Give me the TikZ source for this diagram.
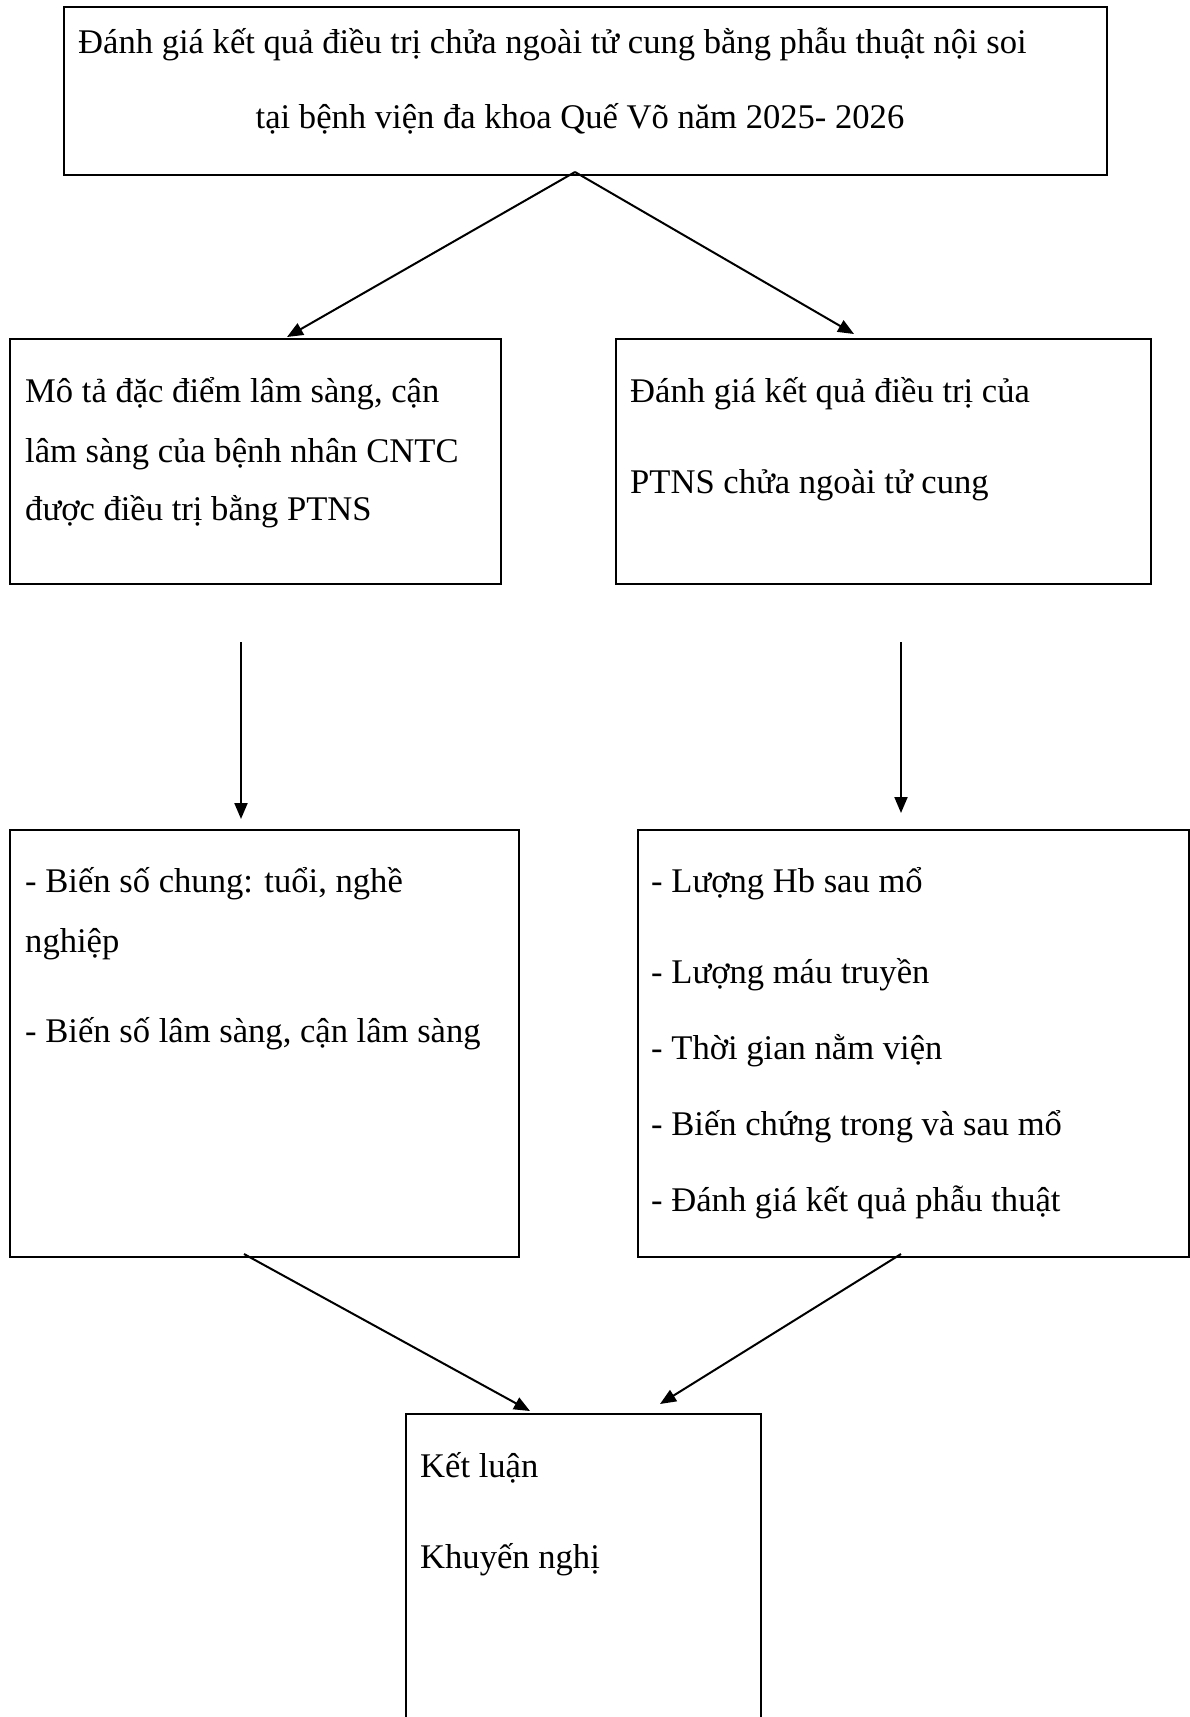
\documentclass[tikz,border=0pt]{standalone}
\usepackage{fontspec}
\setmainfont{Liberation Serif}
\usetikzlibrary{arrows.meta}
\begin{document}
\begin{tikzpicture}[x=1pt,y=-1pt,
 box/.style={draw, line width=2.2pt, anchor=north west, inner sep=0pt},
 txt/.style={anchor=base west, inner sep=0pt, font=\fontsize{34.6}{40}\selectfont},
 arr/.style={line width=2pt, -{Triangle[length=16pt,width=13pt]}}]
\useasboundingbox (0,0) rectangle (1190,1717);
\fill[white] (0,0) rectangle (1190,1717);
% boxes
\node[box, minimum width=1043pt, minimum height=168pt] (top) at (63,6) {};
\node[box, minimum width=491pt, minimum height=245pt] (b2l) at (9,338) {};
\node[box, minimum width=535pt, minimum height=245pt] (b2r) at (615,338) {};
\node[box, minimum width=509pt, minimum height=427pt] (b3l) at (9,829) {};
\node[box, minimum width=551pt, minimum height=427pt] (b3r) at (637,829) {};
\node[box, minimum width=355pt, minimum height=330pt] (bot) at (405,1413) {};
% texts
\node[txt] (t1) at (78,53) {Đánh giá kết quả điều trị chửa ngoài tử cung bằng phẫu thuật nội soi};
\node[txt, anchor=base] (t2) at (580,128) {tại bệnh viện đa khoa Quế Võ năm 2025- 2026};
\node[txt] (l1) at (25,402) {Mô tả đặc điểm lâm sàng, cận};
\node[txt] (l2) at (25,462) {lâm sàng của bệnh nhân CNTC};
\node[txt] (l3) at (25,520) {được điều trị bằng PTNS};
\node[txt] (r1) at (630,402) {Đánh giá kết quả điều trị của};
\node[txt] (r2) at (630,493) {PTNS chửa ngoài tử cung};
\node[txt] (m1) at (25,892) {- Biến số chung: tuổi, nghề};
\node[txt] (m2) at (25,952) {nghiệp};
\node[txt] (m3) at (25,1042) {- Biến số lâm sàng, cận lâm sàng};
\node[txt] (n1) at (651,892) {- Lượng Hb sau mổ};
\node[txt] (n2) at (651,983) {- Lượng máu truyền};
\node[txt] (n3) at (651,1059) {- Thời gian nằm viện};
\node[txt] (n4) at (651,1135) {- Biến chứng trong và sau mổ};
\node[txt] (n5) at (651,1211) {- Đánh giá kết quả phẫu thuật};
\node[txt] (k1) at (420,1477) {Kết luận};
\node[txt] (k2) at (420,1568) {Khuyến nghị};
% connector points
\coordinate (a0) at (575,172);
\coordinate (a1) at (287,337);
\coordinate (a2) at (854,334);
\coordinate (v1s) at (241,642);
\coordinate (v1e) at (241,819);
\coordinate (v2s) at (901,642);
\coordinate (v2e) at (901,813);
\coordinate (c1s) at (244,1254);
\coordinate (c1e) at (530,1411);
\coordinate (c2s) at (901,1254);
\coordinate (c2e) at (660,1404);
\draw[arr] (a0) -- (a1);
\draw[arr] (a0) -- (a2);
\draw[arr] (v1s) -- (v1e);
\draw[arr] (v2s) -- (v2e);
\draw[arr] (c1s) -- (c1e);
\draw[arr] (c2s) -- (c2e);
\end{tikzpicture}
\end{document}
